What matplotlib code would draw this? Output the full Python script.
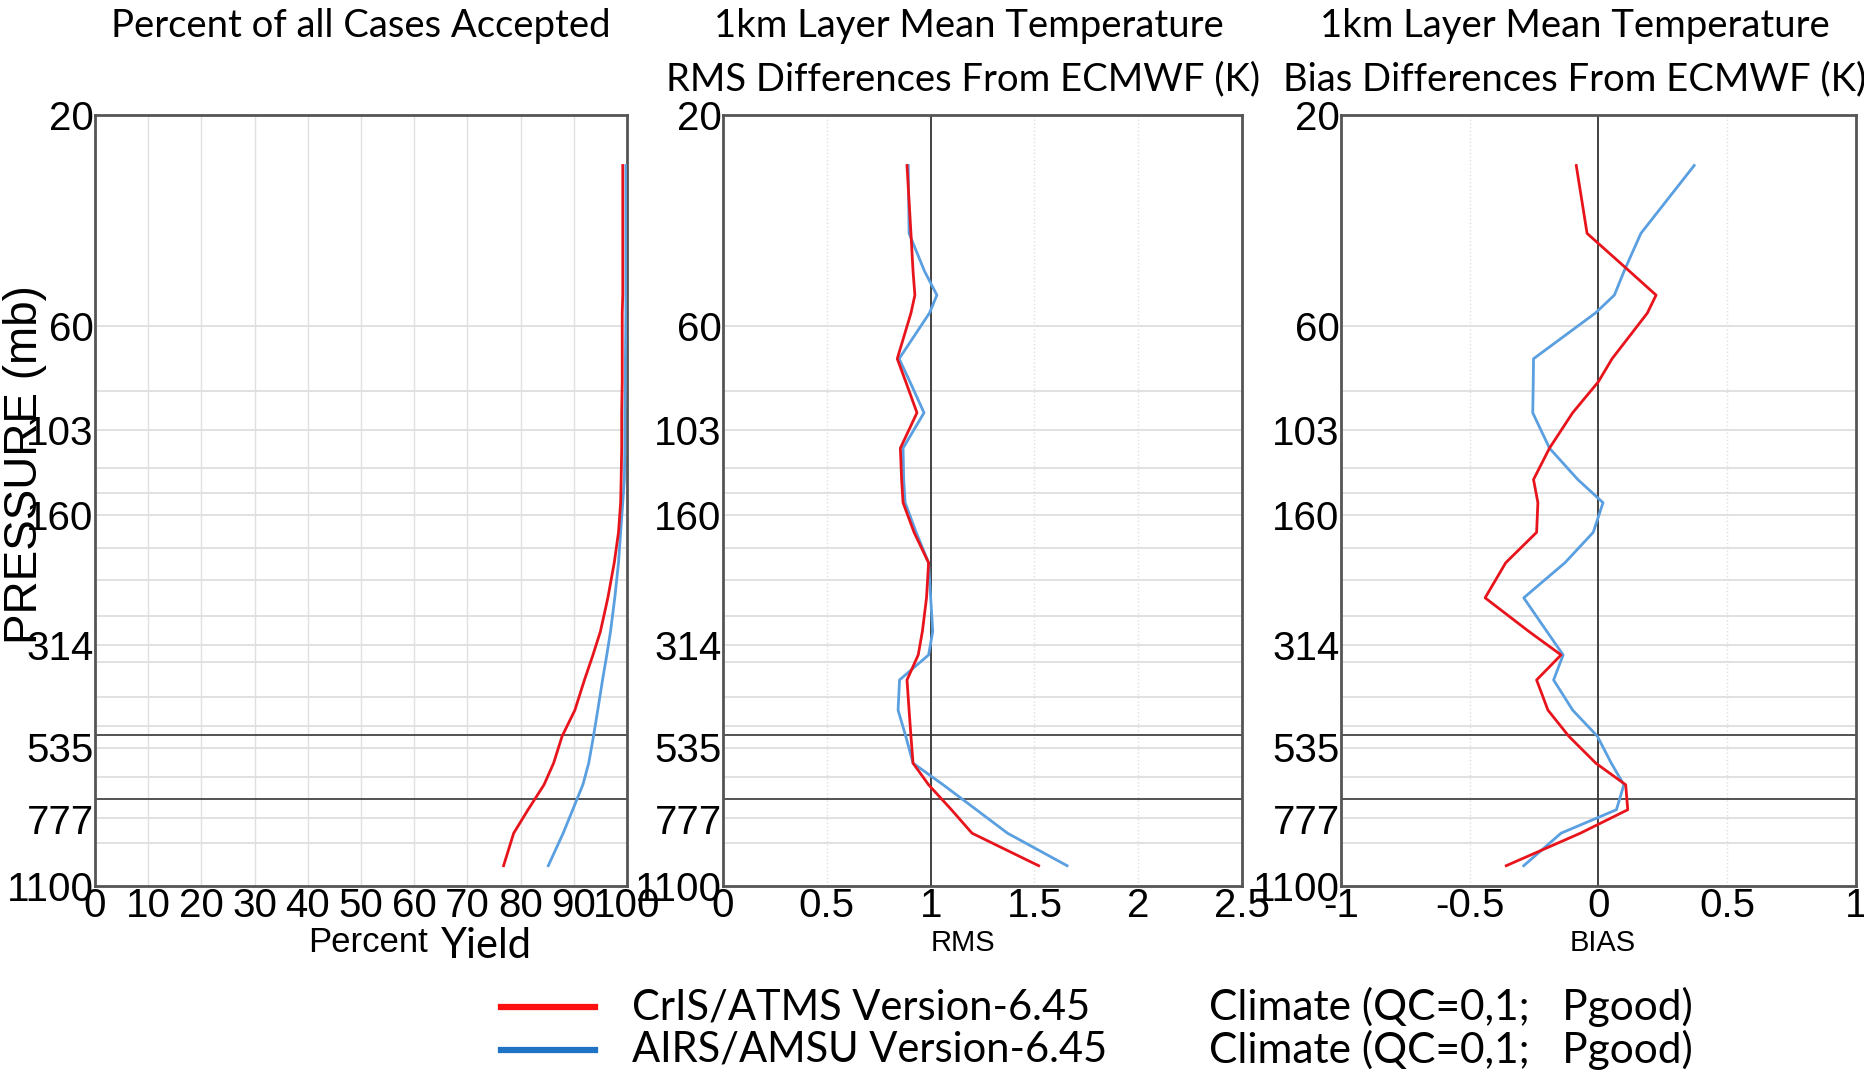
import numpy as np
import matplotlib
matplotlib.use("Agg")
import matplotlib.pyplot as plt

# pressure levels (mb) of the profile points
levels = [26, 37, 45, 51, 56, 71, 80, 94, 113, 133, 150, 175, 205, 246,
          293, 331, 377, 441, 505, 581, 650, 740, 836, 990]

# percent of cases accepted
yield_cris = [99.2, 99.2, 99.2, 99.2, 99.1, 99.1, 99.1, 99.0, 99.0, 98.9, 98.8, 98.4,
              97.6, 96.4, 95.0, 93.6, 92.0, 90.2, 87.8, 86.2, 84.4, 81.4, 78.7, 76.8]
yield_airs = [99.8, 99.8, 99.8, 99.8, 99.8, 99.7, 99.7, 99.6, 99.6, 99.5, 99.2, 98.8,
              98.4, 97.7, 96.9, 96.2, 95.4, 94.5, 93.7, 92.8, 91.7, 89.8, 88.0, 85.2]

# RMS differences from ECMWF (K)
rms_cris = [0.886, 0.905, 0.915, 0.924, 0.905, 0.839, 0.88, 0.934, 0.854, 0.86, 0.867, 0.92,
            0.99, 0.98, 0.96, 0.94, 0.886, 0.896, 0.905, 0.915, 0.99, 1.10, 1.199, 1.52]
rms_airs = [0.892, 0.896, 0.97, 1.03, 0.994, 0.848, 0.90, 0.968, 0.867, 0.87, 0.877, 0.93,
            0.99, 1.0, 1.01, 0.99, 0.85, 0.843, 0.88, 0.915, 1.06, 1.22, 1.37, 1.657]

# bias differences from ECMWF (K)
bias_cris = [-0.086, -0.044, 0.12, 0.224, 0.19, 0.053, 0.0, -0.10, -0.19, -0.252, -0.235, -0.24,
             -0.36, -0.44, -0.27, -0.145, -0.24, -0.196, -0.115, -0.01, 0.106, 0.114, -0.07, -0.358]
bias_airs = [0.372, 0.165, 0.10, 0.062, -0.012, -0.252, -0.253, -0.255, -0.19, -0.08, 0.018, -0.02,
             -0.13, -0.29, -0.20, -0.137, -0.174, -0.10, -0.004, 0.05, 0.099, 0.07, -0.145, -0.29]

pres_ticks = [20, 60, 103, 160, 314, 535, 777, 1100]
grid_levels = [60, 84, 103, 125, 143, 160, 190, 224, 271, 314, 344, 411, 480, 536, 623, 773, 880]
dark_levels = [501, 700]

series_names = ["CrIS/ATMS Version-6.45", "AIRS/AMSU Version-6.45"]
series_note = "Climate (QC=0,1;   Pgood)"

narrow = ["Liberation Sans", "DejaVu Sans"]
calib = ["Lato", "DejaVu Sans"]
red = "#e8141c"
blue = "#5a9fe0"

fig = plt.figure(figsize=(18.65, 10.76), dpi=100)
rects = [
    [0.0509, 0.1766, 0.2853, 0.7165],
    [0.3877, 0.1766, 0.2783, 0.7165],
    [0.7190, 0.1766, 0.2761, 0.7165],
]
panels = [
    dict(cris=yield_cris, airs=yield_airs, xlim=(0, 100), xticks=list(range(0, 101, 10)),
         xlabels=[str(v) for v in range(0, 101, 10)], vgrid=list(range(10, 100, 10)),
         vls="-", ref=None),
    dict(cris=rms_cris, airs=rms_airs, xlim=(0, 2.5), xticks=[0, 0.5, 1, 1.5, 2, 2.5],
         xlabels=["0", "0.5", "1", "1.5", "2", "2.5"], vgrid=[0.5, 1.5, 2.0], vls=":", ref=1.0),
    dict(cris=bias_cris, airs=bias_airs, xlim=(-1, 1), xticks=[-1, -0.5, 0, 0.5, 1],
         xlabels=["-1", "-0.5", "0", "0.5", "1"], vgrid=[-0.5, 0.5], vls=":", ref=0.0),
]

axes = []
for rect, p in zip(rects, panels):
    ax = fig.add_axes(rect)
    ax.set_yscale("log")
    ax.set_ylim(1100, 20)
    ax.set_xlim(*p["xlim"])
    for g in grid_levels:
        ax.axhline(g, color="#dcdcdc", lw=1.2, zorder=1)
    for g in p["vgrid"]:
        ax.axvline(g, color="#e0e0e0", lw=1.0, ls=p["vls"], zorder=1)
    for g in dark_levels:
        ax.axhline(g, color="#444444", lw=1.3, zorder=2)
    if p["ref"] is not None:
        ax.axvline(p["ref"], color="#333333", lw=1.3, zorder=2)
    ax.plot(p["airs"], levels, color=blue, lw=2.0, zorder=3)
    ax.plot(p["cris"], levels, color=red, lw=2.0, zorder=4)
    ax.set_yticks(pres_ticks)
    ax.set_yticklabels([str(v) for v in pres_ticks], family=narrow, fontsize=29)
    ax.yaxis.set_minor_locator(matplotlib.ticker.NullLocator())
    ax.set_xticks(p["xticks"])
    ax.set_xticklabels(p["xlabels"], family=narrow, fontsize=29)
    ax.tick_params(length=0, pad=1)
    for s in ax.spines.values():
        s.set_color("#555555")
        s.set_linewidth(2)
    axes.append(ax)

# titles
tkw = dict(family=calib, fontsize=27.5, ha="center", va="center")
fig.text(0.1932, 0.976, "Percent of all Cases Accepted", **tkw)
fig.text(0.5195, 0.976, "1km Layer Mean Temperature", **tkw)
fig.text(0.5166, 0.926, "RMS Differences From ECMWF (K)", **tkw)
fig.text(0.8444, 0.976, "1km Layer Mean Temperature", **tkw)
fig.text(0.8444, 0.926, "Bias Differences From ECMWF (K)", **tkw)

# axis labels
fig.text(0.0135, 0.568, "PRESSURE (mb)", family=narrow, fontsize=33, rotation=90,
         ha="center", va="center")
fig.text(0.2295, 0.124, "Percent", family=narrow, fontsize=25, ha="right", va="center")
fig.text(0.2365, 0.121, "Yield", family=calib, fontsize=30, ha="left", va="center")
fig.text(0.5165, 0.124, "RMS", family=narrow, fontsize=21, ha="center", va="center")
fig.text(0.8595, 0.124, "BIAS", family=narrow, fontsize=21, ha="center", va="center")

# legend, drawn as a key block under the panels
for name, colour, y in zip(series_names, ["#ff1010", "#1f72c4"], [0.064, 0.0243]):
    fig.add_artist(plt.Line2D([0.2685, 0.3189], [y, y], color=colour, lw=4.5,
                              transform=fig.transFigure))
    fig.text(0.3387, y, name, family=calib, fontsize=30, ha="left", va="center")
    fig.text(0.648, y, series_note, family=calib, fontsize=30.5, ha="left", va="center")

fig.savefig("out.png", dpi=100)
